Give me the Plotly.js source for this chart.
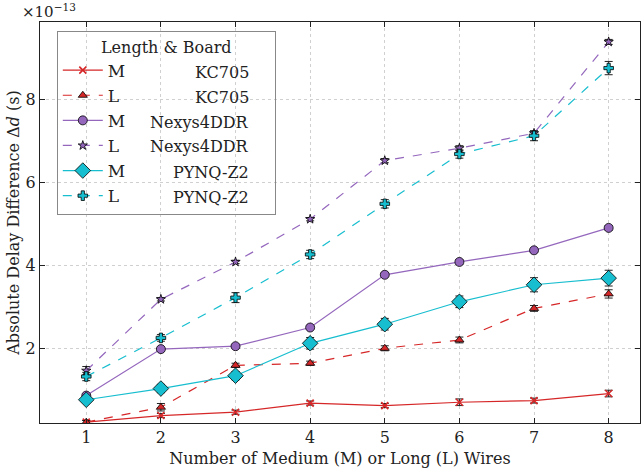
<!DOCTYPE html>
<html><head><meta charset="utf-8">
<script src="https://cdn.plot.ly/plotly-3.0.1.min.js"></script>
<style>body{margin:0;padding:0;background:#fff}#chart{width:642px;height:474px}</style>
</head><body><div id="chart"></div>
<script>
const wires = [1, 2, 3, 4, 5, 6, 7, 8];
const lengths = ["M", "L", "M", "L", "M", "L"];
const boards = ["KC705", "KC705", "Nexys4DDR", "Nexys4DDR", "PYNQ-Z2", "PYNQ-Z2"];
// values in units of 1e-13 s
const mKC705 = [0.22, 0.38, 0.46, 0.68, 0.62, 0.70, 0.74, 0.91];
const mKC705Err = [0.04, 0.05, 0.05, 0.05, 0.05, 0.08, 0.06, 0.08];
const lKC705 = [0.22, 0.58, 1.59, 1.64, 2.00, 2.20, 2.96, 3.31];
const lKC705Err = [0.04, 0.09, 0.05, 0.05, 0.06, 0.07, 0.07, 0.10];
const mNexys = [0.86, 1.98, 2.05, 2.50, 3.77, 4.08, 4.36, 4.90];
const mNexysErr = [0.04, 0.04, 0.04, 0.04, 0.04, 0.05, 0.05, 0.05];
const lNexys = [1.46, 3.18, 4.08, 5.11, 6.52, 6.82, 7.18, 9.38];
const lNexysErr = [0.10, 0.04, 0.04, 0.04, 0.05, 0.06, 0.05, 0.06];
const mPynq = [0.76, 1.03, 1.34, 2.12, 2.58, 3.12, 3.53, 3.69];
const mPynqErr = [0.06, 0.10, 0.10, 0.14, 0.14, 0.14, 0.17, 0.19];
const lPynq = [1.32, 2.25, 3.22, 4.26, 5.48, 6.68, 7.12, 8.75];
const lPynqErr = [0.10, 0.08, 0.12, 0.10, 0.10, 0.10, 0.12, 0.16];
const yTicks = [2, 4, 6, 8];

const red = "#d62728", purple = "#9467bd", cyan = "#17becf";
const FONT = "DejaVu Serif";
const seriesVals = [mKC705, lKC705, mNexys, lNexys, mPynq, lPynq];
const seriesErr = [mKC705Err, lKC705Err, mNexysErr, lNexysErr, mPynqErr, lPynqErr];
const styles = [
  {color: red, dash: "solid", symbol: "x-thin-open", size: 7},
  {color: red, dash: "dash", symbol: "triangle-up", size: 8},
  {color: purple, dash: "solid", symbol: "circle", size: 9},
  {color: purple, dash: "dash", symbol: "star", size: 7},
  {color: cyan, dash: "solid", symbol: "diamond", size: 12},
  {color: cyan, dash: "dash", symbol: "cross", size: 8}
];
const traces = seriesVals.map((v, i) => {
  const s = styles[i];
  const open = s.symbol.indexOf("open") >= 0;
  return {
    x: wires, y: v, type: "scatter", mode: "lines+markers",
    name: lengths[i],
    line: {color: s.color, width: 1.2, dash: s.dash},
    marker: {symbol: s.symbol, size: s.size, color: s.color,
             line: {color: open ? s.color : "#000", width: open ? 1.6 : 0.8}},
    error_y: {type: "data", array: seriesErr[i], visible: true, color: "#222", thickness: 1, width: 4}
  };
});

const rowPx = [72, 97, 122, 146, 172, 197];
const annotations = boards.map((b, i) => ({
  text: b, xref: "paper", yref: "paper", x: (251 - 40) / 600, xanchor: "right",
  y: (423 - rowPx[i]) / 401, yanchor: "middle", showarrow: false,
  font: {family: FONT, size: 16, color: "#222"}
}));
annotations.push({
  text: "\u00D710<sup>\u221213</sup>", xref: "paper", yref: "paper", x: 0, y: 1,
  xanchor: "left", yanchor: "bottom", xshift: -20, yshift: -1, showarrow: false,
  font: {family: FONT, size: 15, color: "#222"}
});

const padT = '<span style="color:rgba(0,0,0,0)">' + "\u2007".repeat(4) + '</span>';
const layout = {
  width: 642, height: 474,
  margin: {l: 40, r: 2, t: 22, b: 51},
  paper_bgcolor: "#fff", plot_bgcolor: "#fff",
  font: {family: FONT, size: 16, color: "#222"},
  showlegend: true,
  legend: {
    x: 0.028, y: 0.978, xanchor: "left", yanchor: "top",
    bgcolor: "rgba(255,255,255,0)", bordercolor: "#888", borderwidth: 1,
    font: {family: FONT, size: 17, color: "#222"},
    title: {text: padT + "Length &amp; Board" + padT, side: "top center", font: {family: FONT, size: 16}},
    itemwidth: 40, tracegroupgap: 0
  },
  xaxis: {
    range: [0.38, 8.42], tickvals: wires, ticks: "inside", ticklen: 5, tickcolor: "#222",
    showline: true, linecolor: "#222", linewidth: 1.2, mirror: "ticks",
    showgrid: true, gridcolor: "#d0d0d0", griddash: "dot", gridwidth: 1, zeroline: false,
    tickfont: {family: FONT, size: 16},
    title: {text: "Number of Medium (M) or Long (L) Wires", font: {family: FONT, size: 16}, standoff: 6}
  },
  yaxis: {
    range: [0.2, 9.86], tickvals: yTicks, ticktext: yTicks.map(String), ticks: "inside", ticklen: 5, tickcolor: "#222",
    showline: true, linecolor: "#222", linewidth: 1.2, mirror: "ticks",
    showgrid: true, gridcolor: "#d0d0d0", griddash: "dot", gridwidth: 1, zeroline: false,
    tickfont: {family: FONT, size: 16},
    title: {text: "Absolute Delay Difference \u0394<i>d</i> (s)", font: {family: FONT, size: 16}, standoff: 1}
  },
  annotations: annotations
};
Plotly.newPlot("chart", traces, layout, {displayModeBar: false, staticPlot: true});
</script></body></html>
